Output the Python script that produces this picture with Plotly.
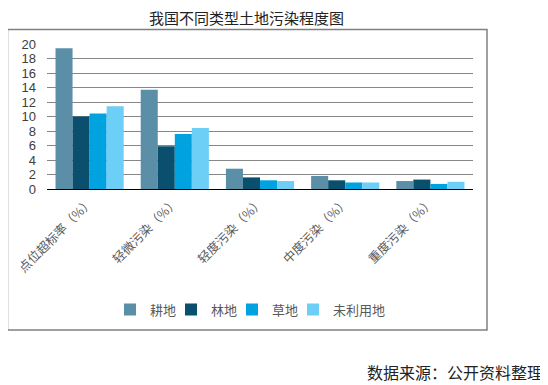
import plotly.graph_objects as go

categories = ["点位超标率（%）", "轻微污染（%）", "轻度污染（%）", "中度污染（%）", "重度污染（%）"]
series_names = ["耕地", "林地", "草地", "未利用地"]
gengdi = [19.4, 13.7, 2.8, 1.8, 1.1]
lindi = [10.0, 5.9, 1.6, 1.2, 1.3]
caodi = [10.4, 7.6, 1.2, 0.9, 0.7]
weiliyong = [11.4, 8.4, 1.1, 0.9, 1.0]
y_ticks = list(range(0, 21, 2))

colors = ["#5b8fa8", "#0a4f6e", "#00a3e0", "#6dcff6"]
values = [gengdi, lindi, caodi, weiliyong]

OFF = 8  # page body margin
W, H = 548 - OFF, 385 - OFF
L, R_edge, T, B_edge = 47 - OFF, 473 - OFF, 43.5 - OFF, 189.5 - OFF
plot_w = R_edge - L
plot_h = B_edge - T

def px(x):
    return (x - OFF - L) / plot_w

def py(y):
    return (B_edge - (y - OFF)) / plot_h

fig = go.Figure()
for name, vals, c in zip(series_names, values, colors):
    fig.add_trace(go.Bar(x=categories, y=vals, name=name, marker=dict(color=c, line=dict(width=0))))
# invisible spacer so the last legend label is not clipped
fig.add_trace(go.Scatter(x=[None], y=[None], mode="markers", name="\u3000\u3000",
                         marker=dict(color="rgba(0,0,0,0)"), hoverinfo="skip"))

font_fam = "Liberation Sans, Arial, Noto Sans CJK SC"
fig.update_layout(
    width=W, height=H,
    margin=dict(l=L, r=W - R_edge, t=T, b=H - B_edge, autoexpand=False),
    paper_bgcolor="white", plot_bgcolor="white",
    barmode="group", bargap=0.2, bargroupgap=0,
    font=dict(family=font_fam, color="#595959", size=12),
    showlegend=True,
    legend=dict(orientation="h", x=px(110), y=py(311), xanchor="left", yanchor="middle",
                font=dict(size=13, color="#595959", family="Noto Sans CJK SC"),
                itemwidth=30, entrywidth=16, entrywidthmode="pixels",
                tracegroupgap=0, bgcolor="rgba(0,0,0,0)"),
    xaxis=dict(showline=True, linecolor="black", linewidth=1, tickangle=-45,
               tickfont=dict(size=12.5, color="#595959", family="Noto Sans CJK SC"),
               ticks="", showgrid=False),
    yaxis=dict(range=[0, 20], tickvals=y_ticks, showgrid=True, gridcolor="#878787", gridwidth=1,
               zeroline=True, zerolinecolor="black", zerolinewidth=1,
               tickfont=dict(size=13, color="#404040"), ticklabelstandoff=10, ticks=""),
    shapes=[dict(type="rect", xref="paper", yref="paper",
                 x0=px(7.5), x1=px(487), y0=py(331.5), y1=py(29),
                 line=dict(color="#808080", width=1.5), fillcolor="rgba(0,0,0,0)", layer="below")],
    annotations=[
        dict(text="我国不同类型土地污染程度图", xref="paper", yref="paper", x=px(246), y=py(17),
             xanchor="center", yanchor="middle", showarrow=False,
             font=dict(size=15, color="#222222", family="Noto Sans CJK SC")),
        dict(text="数据来源：公开资料整理", xref="paper", yref="paper", x=px(545), y=py(374),
             xanchor="right", yanchor="middle", showarrow=False,
             font=dict(size=16, color="#222222", family="Noto Sans CJK SC")),
    ],
)

fig.write_html("out.html")
